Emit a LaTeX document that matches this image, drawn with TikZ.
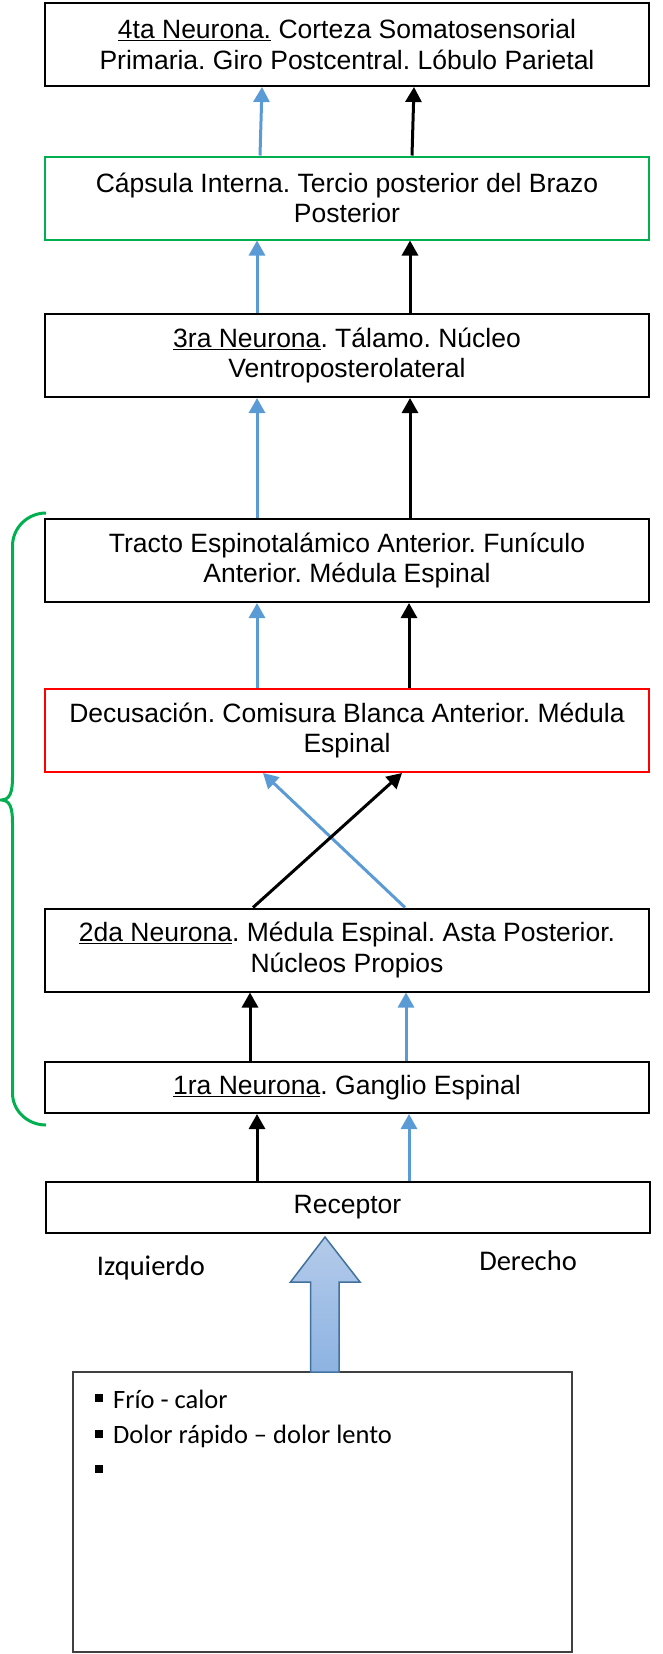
\documentclass[tikz,border=0pt]{standalone}
\usepackage{fontspec}
\usepackage{tikz}
\usetikzlibrary{arrows.meta}

\newfontfamily\arial{Liberation Sans}
\newfontfamily\calibri{Carlito}
\frenchspacing

\definecolor{viablue}{HTML}{5B9BD5}
\definecolor{llavegreen}{HTML}{00B050}
\definecolor{cajared}{HTML}{FF0000}
\definecolor{bigborde}{HTML}{41719C}
\definecolor{bigtop}{HTML}{B4CBEA}
\definecolor{bigbot}{HTML}{8DB3E2}

\tikzset{
  box/.style={draw, line width=2pt, minimum width=604pt, minimum height=83pt,
    inner sep=0pt, align=center, font=\arial\fontsize{26.5}{30.5}\selectfont},
  lowbox/.style={box, minimum height=51pt},
  flecha/.style={line width=3pt, -{Triangle[length=15pt,width=16pt]}},
  viaizq/.style={flecha, viablue},
  viader/.style={flecha, black},
  lado/.style={font=\calibri\fontsize{28.5}{32}\selectfont, anchor=base, inner sep=0pt},
  item/.style={font=\calibri\fontsize{26.5}{32}\selectfont, anchor=base west, inner sep=0pt},
  punto/.style={fill, minimum size=8pt, inner sep=0pt}
}

\begin{document}
\begin{tikzpicture}[x=1pt, y=-1pt]
    \useasboundingbox (0,0) rectangle (662,1654);

    % cajas
    \node[box] (n4) at (347,44.5) {\underline{4ta Neurona.} Corteza Somatosensorial\\Primaria. Giro Postcentral. Lóbulo Parietal};
    \node[box, draw=llavegreen] (caps) at (347,198) {Cápsula Interna. Tercio posterior del Brazo\\Posterior};
    \node[box] (n3) at (347,355.5) {\underline{3ra Neurona}. Tálamo. Núcleo\\Ventroposterolateral};
    \node[box] (tracto) at (347,560.5) {Tracto Espinotalámico Anterior. Funículo\\Anterior. Médula Espinal};
    \node[box, draw=cajared] (decus) at (347,730.5) {Decusación. Comisura Blanca Anterior. Médula\\Espinal};
    \node[box] (n2) at (347,950) {\underline{2da Neurona}. Médula Espinal. Asta Posterior.\\Núcleos Propios};
    \node[lowbox] (n1) at (347,1087.5) {\underline{1ra Neurona}. Ganglio Espinal};
    \node[lowbox] (recep) at (347.5,1207.5) {Receptor};

    % vias
    \draw[viaizq] ([xshift=-87pt]caps.north) -- ([xshift=-85pt]n4.south);
    \draw[viader] ([xshift=65pt]caps.north) -- ([xshift=67pt]n4.south);
    \draw[viaizq] ([xshift=-90pt]n3.north) -- ([xshift=-90pt]caps.south);
    \draw[viader] ([xshift=63pt]n3.north) -- ([xshift=63pt]caps.south);
    \draw[viaizq] ([xshift=-90pt]tracto.north) -- ([xshift=-90pt]n3.south);
    \draw[viader] ([xshift=63pt]tracto.north) -- ([xshift=63pt]n3.south);
    \draw[viaizq] ([xshift=-90pt]decus.north) -- ([xshift=-90pt]tracto.south);
    \draw[viader] ([xshift=62pt]decus.north) -- ([xshift=62pt]tracto.south);
    \draw[viaizq] ([xshift=58pt]n2.north) -- ([xshift=-84pt]decus.south);
    \draw[viader] ([xshift=-94pt]n2.north) -- ([xshift=55pt]decus.south);
    \draw[viader] ([xshift=-97pt]n1.north) -- ([xshift=-97pt]n2.south);
    \draw[viaizq] ([xshift=59pt]n1.north) -- ([xshift=59pt]n2.south);
    \draw[viader] ([xshift=-90.5pt]recep.north) -- ([xshift=-90pt]n1.south);
    \draw[viaizq] ([xshift=61.5pt]recep.north) -- ([xshift=62pt]n1.south);

    % llave
    \draw[llavegreen, line width=3pt] (46,513) to[out=180,in=90] (12.5,546) -- (12.5,772)
        to[out=270,in=0] (1.5,800) to[out=0,in=90] (12.5,828) -- (12.5,1093)
        to[out=270,in=180] (46,1125);

    % lados
    \node[lado] (izq) at (151,1275) {Izquierdo};
    \node[lado] (der) at (528,1270) {Derecho};

    % estimulos
    \draw[line width=1.5pt, draw=black!75] (73,1372) rectangle (572,1652);
    \node[punto] (p1) at (99,1398) {};
    \node[punto] (p2) at (99,1434) {};
    \node[punto] (p3) at (99,1468.5) {};
    \node[item] (t1) at (113,1408) {Frío - calor};
    \node[item] (t2) at (113,1443) {Dolor rápido – dolor lento};

    % flecha grande
    \draw[bigborde, line width=1.5pt, top color=bigtop, bottom color=bigbot]
        (325,1237) -- (360,1282) -- (339,1282) -- (339,1372)
        -- (310.5,1372) -- (310.5,1282) -- (290.5,1282) -- cycle;
\end{tikzpicture}
\end{document}
